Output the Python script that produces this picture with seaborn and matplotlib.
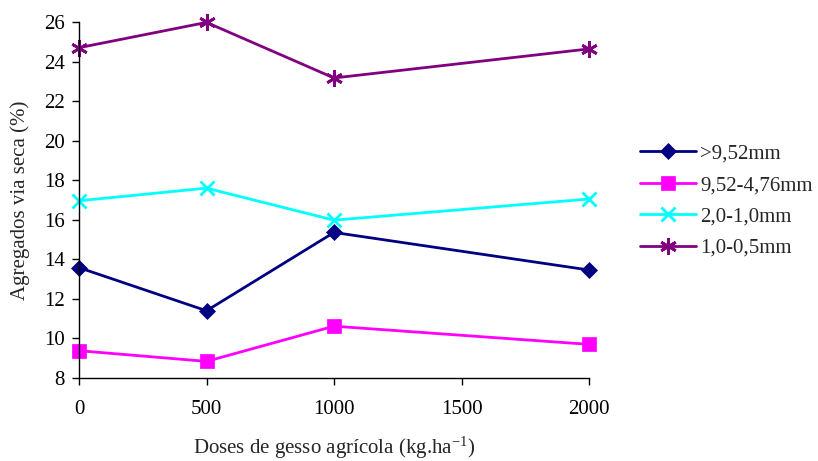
import matplotlib
matplotlib.use("Agg")
import matplotlib.pyplot as plt
import seaborn as sns
import pandas as pd

doses = [0, 500, 1000, 2000]
s_gt952 = [13.58, 11.40, 15.36, 13.46]
s_952_476 = [9.38, 8.84, 10.62, 9.70]
s_20_10 = [16.96, 17.60, 15.98, 17.05]
s_10_05 = [24.70, 25.98, 23.17, 24.64]
labels = [">9,52mm", "9,52-4,76mm", "2,0-1,0mm", "1,0-0,5mm"]
xticks = [0, 500, 1000, 1500, 2000]
yticks = [8, 10, 12, 14, 16, 18, 20, 22, 24, 26]

series = [s_gt952, s_952_476, s_20_10, s_10_05]
colors = ["#000080", "#FF00FF", "#00FFFF", "#800080"]
markers = ["D", "s", "x", (6, 2, 0)]
msizes = [8, 10, 10, 12]

sns.set_style("ticks")
plt.rcParams["font.family"] = ["Liberation Serif", "DejaVu Serif"]
plt.rcParams["mathtext.default"] = "regular"

fig = plt.figure(figsize=(8.18, 4.61), dpi=100)
ax = fig.add_axes([79/818, 1-378/461, (589-79)/818, (378-22)/461])

for vals, lab, c, m, ms in zip(series, labels, colors, markers, msizes):
    df = pd.DataFrame({"x": doses, "y": vals})
    sns.lineplot(data=df, x="x", y="y", ax=ax, color=c, marker=m, markersize=ms,
                 markeredgecolor=c, markerfacecolor=c, markeredgewidth=2 if m in ("x", (6, 2, 0)) else 0.5,
                 linewidth=2, label=lab, clip_on=False)

ax.set_xlim(0, 2000)
ax.set_ylim(8, 26)
ax.set_xticks(xticks)
ax.set_yticks(yticks)
ax.tick_params(axis="both", labelsize=15, direction="out", length=5, width=1, colors="black", pad=5)
ax.tick_params(axis="x", pad=11)
for sp in ["top", "right"]:
    ax.spines[sp].set_visible(False)
for sp in ["left", "bottom"]:
    ax.spines[sp].set_color("black")
    ax.spines[sp].set_linewidth(1)
ax.set_xlabel("Doses de gesso agrícola (kg.ha$^{-1}$)", fontsize=15, labelpad=11)
ax.set_ylabel("Agregados via seca (%)", fontsize=15, labelpad=10)

h, l = ax.get_legend_handles_labels()
ax.get_legend().remove()
fig.legend(h, l, loc="center left", bbox_to_anchor=(640/818, 0.564), frameon=False,
           fontsize=15, handlelength=2.7, labelspacing=0.57, handletextpad=0.2,
           borderpad=0, borderaxespad=0)

fig.savefig("out.png", dpi=100)
